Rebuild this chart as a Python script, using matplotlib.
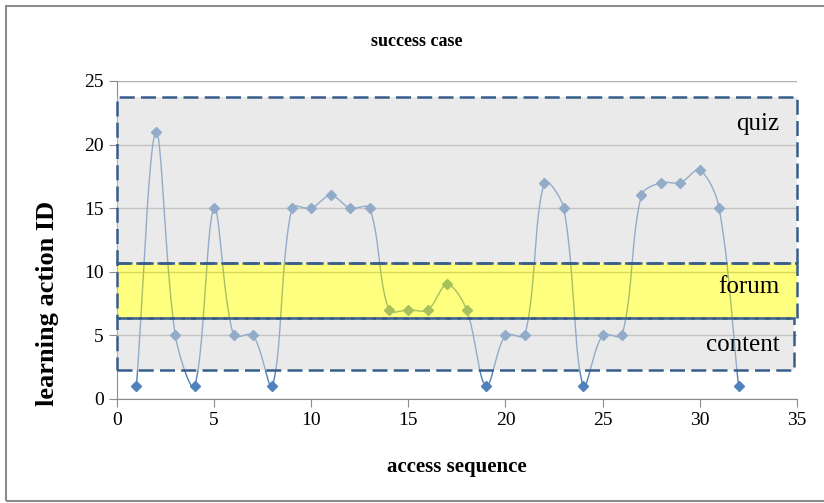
import numpy as np
import matplotlib
matplotlib.use("Agg")
import matplotlib.pyplot as plt
from matplotlib.patches import Rectangle

# data
seq = list(range(1, 33))
action_id = [1, 21, 5, 1, 15, 5, 5, 1, 15, 15, 16, 15, 15, 7, 7, 7, 9, 7,
             1, 5, 5, 17, 15, 1, 5, 5, 16, 17, 17, 18, 15, 1]

# zones: label, lower and upper edge, right edge, label height
zone_names = ["quiz", "forum", "content"]
zone_low = [10.7, 6.35, 2.3]
zone_high = [23.75, 10.7, 6.35]
zone_right = [35.0, 35.0, 34.85]
zone_fill = ["#d6d6d6", "#ffff00", "#d6d6d6"]
label_y = [21.6, 8.8, 4.2]


def smooth(x, y, sx, sy, n=24):
    # bezier through the points with tangents weighted by chord length
    # (close to the spreadsheet "smoothed line"), done in screen units
    P = np.column_stack([np.asarray(x, float) * sx, np.asarray(y, float) * sy])
    m = len(P)
    tang = np.zeros_like(P)
    for i in range(m):
        a = P[max(i - 1, 0)]
        b = P[min(i + 1, m - 1)]
        d = np.linalg.norm(P[i] - a) + np.linalg.norm(b - P[i])
        tang[i] = (b - a) / d if d > 0 else 0
    t = np.linspace(0, 1, n, endpoint=False)[:, None]
    pts = []
    for i in range(m - 1):
        p0, p3 = P[i], P[i + 1]
        L = np.linalg.norm(p3 - p0)
        p1 = p0 + tang[i] * L / 3
        p2 = p3 - tang[i + 1] * L / 3
        pts.append((1 - t) ** 3 * p0 + 3 * (1 - t) ** 2 * t * p1
                   + 3 * (1 - t) * t ** 2 * p2 + t ** 3 * p3)
    pts.append(P[-1:])
    pts = np.vstack(pts)
    return pts[:, 0] / sx, pts[:, 1] / sy


serif = ["Liberation Serif", "DejaVu Serif"]

fig = plt.figure(figsize=(8.24, 5.03), dpi=100)
ax = fig.add_axes([0.142, 0.207, 0.825, 0.632])
ax.set_xlim(0, 35)
ax.set_ylim(0, 25)

bb = ax.get_window_extent()
cx, cy = smooth(seq, action_id, bb.width / 35, bb.height / 25)
ax.plot(cx, cy, color="#4f81bd", lw=1.0, zorder=3)
ax.plot(seq, action_id, ls="none", marker="D", ms=5.5, color="#4f81bd", zorder=4)

for i in range(len(zone_names)):
    h = zone_high[i] - zone_low[i]
    ax.add_patch(Rectangle((0, zone_low[i]), zone_right[i], h,
                           facecolor=zone_fill[i], alpha=0.5, lw=0, zorder=5))
    ax.add_patch(Rectangle((0, zone_low[i]), zone_right[i], h,
                           fill=False, edgecolor="#385d8a", lw=1.8,
                           linestyle=(0, (6, 2.5)), zorder=6, clip_on=False))
    ax.text(34.1, label_y[i], zone_names[i], ha="right", va="center",
            fontsize=18, family=serif, zorder=7)

ax.set_xticks(range(0, 36, 5))
ax.set_yticks(range(0, 26, 5))
ax.yaxis.grid(True, color="#b0b0b0", lw=1)
ax.set_axisbelow(True)
for s in ("top", "right"):
    ax.spines[s].set_visible(False)
for s in ("left", "bottom"):
    ax.spines[s].set_color("#8c8c8c")
ax.tick_params(direction="out", length=6, color="#8c8c8c", labelsize=14)
for lab in ax.get_xticklabels() + ax.get_yticklabels():
    lab.set_family(serif)

ax.set_xlabel("access sequence", fontsize=15, fontweight="bold", family=serif, labelpad=20)
ax.set_ylabel("learning action ID", fontsize=19, fontweight="bold", family=serif)
ax.yaxis.set_label_coords(-0.086, 0.30)
fig.text(0.506, 0.917, "success case", ha="center", va="center",
         fontsize=13, fontweight="bold", family=serif)

# outer border of the chart area
fig.patches.append(Rectangle((6 / 824, 2 / 503), 1.0, 495 / 503, transform=fig.transFigure,
                             fill=False, edgecolor="#8c8c8c", lw=1.5))

fig.savefig("out.png", dpi=100)
